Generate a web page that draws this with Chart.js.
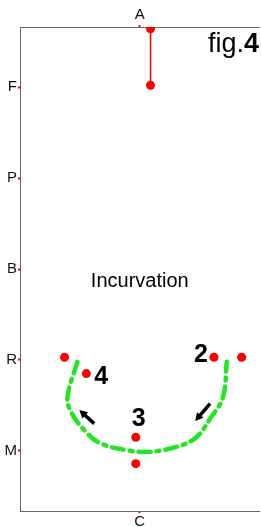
<!DOCTYPE html>
<html>
<head>
<meta charset="utf-8">
<script src="https://cdn.jsdelivr.net/npm/chart.js@4.4.1/dist/chart.umd.min.js"></script>
<style>
  html, body { margin: 0; padding: 0; background: #fff; overflow: hidden; }
  #wrap { width: 264px; height: 527px; }
</style>
</head>
<body>
<div id="wrap"><canvas id="grafico"></canvas></div>
<script>
// niveaux sur l'axe vertical
const yTicks = [1, 2, 3, 4, 5];
const yLabels = ['M', 'R', 'B', 'P', 'F'];
const xTopLabel = 'A';
const xBottomLabel = 'C';

// segment rouge du haut
const ligneX = [0.09, 0.09];
const ligneY = [5.64, 5.02];

// points rouges
const pointsX = [-0.628, 0.62, 0.851, -0.446, -0.033, -0.033];
const pointsY = [2.03, 2.03, 2.03, 1.85, 1.15, 0.86];

// courbe verte (trajectoire)
const courbeX = [-0.521, -0.603, -0.570, -0.463, -0.339, -0.116, 0.050, 0.264, 0.463, 0.595, 0.694, 0.727];
const courbeY = [1.98, 1.59, 1.42, 1.23, 1.09, 1.01, 0.99, 1.03, 1.14, 1.37, 1.59, 1.98];

// fleches : queue -> tete
const flecheQueueX = [-0.38, 0.587];
const flecheQueueY = [1.30, 1.52];
const flecheTeteX = [-0.504, 0.463];
const flecheTeteY = [1.45, 1.33];

// textes
const textes = ['2', '4', '3', 'Incurvation'];
const textesX = [0.512, -0.322, -0.008, 0];
const textesY = [2.05, 1.81, 1.35, 2.86];
const textesGras = [true, true, true, false];

function paires(xs, ys) {
    return xs.map((x, i) => ({ x: x, y: ys[i] }));
}

const annotations = {
    id: 'annotations',
    afterDatasetsDraw(chart) {
        const ctx = chart.ctx;
        const sx = chart.scales.x;
        const sy = chart.scales.y;
        ctx.save();

        // fleches
        ctx.strokeStyle = '#000';
        ctx.fillStyle = '#000';
        ctx.lineWidth = 3.5;
        flecheQueueX.forEach((qx, i) => {
            const x0 = sx.getPixelForValue(qx), y0 = sy.getPixelForValue(flecheQueueY[i]);
            const x1 = sx.getPixelForValue(flecheTeteX[i]), y1 = sy.getPixelForValue(flecheTeteY[i]);
            const ang = Math.atan2(y1 - y0, x1 - x0);
            const L = 9;
            ctx.beginPath();
            ctx.moveTo(x0, y0);
            ctx.lineTo(x1 - Math.cos(ang) * L * 0.6, y1 - Math.sin(ang) * L * 0.6);
            ctx.stroke();
            ctx.beginPath();
            ctx.moveTo(x1, y1);
            ctx.lineTo(x1 - L * Math.cos(ang - 0.5), y1 - L * Math.sin(ang - 0.5));
            ctx.lineTo(x1 - L * Math.cos(ang + 0.5), y1 - L * Math.sin(ang + 0.5));
            ctx.closePath();
            ctx.fill();
        });

        // textes
        ctx.textAlign = 'center';
        ctx.textBaseline = 'middle';
        textes.forEach((t, i) => {
            ctx.font = (textesGras[i] ? 'bold 25px' : '20px') + ' "Liberation Sans", Arial, sans-serif';
            ctx.fillText(t, sx.getPixelForValue(textesX[i]), sy.getPixelForValue(textesY[i]));
        });

        // fig.4
        ctx.textAlign = 'right';
        ctx.textBaseline = 'alphabetic';
        ctx.font = 'bold 27px "Liberation Sans", Arial, sans-serif';
        const xr = 259;
        const yb = 52;
        const w4 = ctx.measureText('4').width;
        ctx.fillText('4', xr, yb);
        ctx.font = '27px "Liberation Sans", Arial, sans-serif';
        ctx.fillText('fig.', xr - w4, yb);
        ctx.restore();
    }
};

const police = { family: '"Liberation Sans", Arial, sans-serif', size: 15 };
const gris = '#666';

new Chart(document.getElementById('grafico').getContext('2d'), {
    type: 'scatter',
    data: {
        datasets: [
            {
                type: 'line',
                data: paires(courbeX, courbeY),
                borderColor: '#22e622',
                borderWidth: 4.5,
                borderDash: [12, 6, 3, 6],
                borderCapStyle: 'round',
                tension: 0.4,
                pointRadius: 0,
                fill: false
            },
            {
                type: 'line',
                data: paires(ligneX, ligneY),
                borderColor: '#ff0000',
                borderWidth: 1.5,
                pointRadius: 4.5,
                pointBackgroundColor: '#ff0000',
                pointBorderWidth: 0
            },
            {
                data: paires(pointsX, pointsY),
                pointRadius: 4.5,
                pointBackgroundColor: '#ff0000',
                pointBorderWidth: 0
            }
        ]
    },
    options: {
        responsive: true,
        maintainAspectRatio: false,
        animation: false,
        layout: { padding: 0 },
        plugins: { legend: { display: false }, tooltip: { enabled: false } },
        scales: {
            x: {
                type: 'linear', position: 'bottom', min: -1, max: 1,
                afterBuildTicks: s => { s.ticks = [{ value: 0 }]; },
                afterFit: s => { s.height = 16; },
                ticks: { callback: () => xBottomLabel, color: '#111', font: police, padding: 0 },
                grid: { drawOnChartArea: false, tickLength: 2, tickWidth: 2, tickColor: '#ff0000' },
                border: { color: gris, width: 1 }
            },
            xTop: {
                type: 'linear', position: 'top', min: -1, max: 1,
                afterBuildTicks: s => { s.ticks = [{ value: 0 }]; },
                afterFit: s => { s.height = 27; },
                ticks: { callback: () => xTopLabel, color: '#111', font: police, padding: 1 },
                grid: { drawOnChartArea: false, tickLength: 2, tickWidth: 2, tickColor: '#ff0000' },
                border: { color: gris, width: 1 }
            },
            y: {
                type: 'linear', min: 0.34, max: 5.66,
                afterBuildTicks: s => { s.ticks = yTicks.map(v => ({ value: v })); },
                afterFit: s => { s.width = 20; },
                ticks: { callback: v => yLabels[yTicks.indexOf(v)], color: '#111', font: police, padding: 1 },
                grid: { drawOnChartArea: false, tickLength: 2, tickWidth: 2, tickColor: '#ff0000' },
                border: { color: gris, width: 1 }
            }
        }
    },
    plugins: [annotations]
});
</script>
</body>
</html>
